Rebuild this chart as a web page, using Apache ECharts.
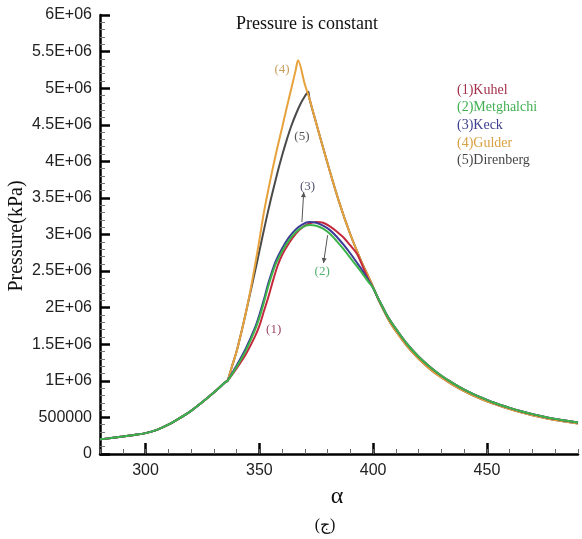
<!DOCTYPE html>
<html>
<head>
<meta charset="utf-8">
<script src="https://cdn.jsdelivr.net/npm/echarts@6/dist/echarts.min.js"></script>
<style>
  html, body { margin: 0; padding: 0; background: #ffffff; }
  #chart { width: 582px; height: 539px; }
</style>
</head>
<body>
<div id="chart"></div>
<script>
// Pressure (kPa) against crank angle alpha for five laminar flame speed correlations.

// Shared compression segment (all models identical here)
const alphaBase = [280, 285, 290, 295, 300, 305, 310, 315, 320, 325, 330, 335];
const pBase = [2.0e5, 2.18e5, 2.38e5, 2.6e5, 2.85e5, 3.3e5, 4.0e5, 4.9e5, 5.9e5, 7.1e5, 8.4e5, 9.8e5];

// (1) Kuhel
const alphaKuhel = [336, 340, 344, 348, 350, 352, 354, 356, 358, 360, 363, 366, 369, 372, 375, 378, 381, 384, 387, 390, 393, 396, 398];
const pKuhel = [1.0e6, 1.17e6, 1.36e6, 1.6e6, 1.75e6, 1.95e6, 2.15e6, 2.37e6, 2.57e6, 2.72e6, 2.88e6, 3.01e6, 3.1e6, 3.15e6, 3.17e6, 3.16e6, 3.11e6, 3.04e6, 2.96e6, 2.85e6, 2.73e6, 2.52e6, 2.38e6];

// (2) Metghalchi
const alphaMetghalchi = [336, 340, 344, 348, 350, 352, 354, 357, 360, 363, 366, 369, 372, 375, 378, 381, 384, 387, 390, 393, 395, 398];
const pMetghalchi = [1.0e6, 1.19e6, 1.41e6, 1.69e6, 1.86e6, 2.07e6, 2.3e6, 2.58e6, 2.77e6, 2.92e6, 3.03e6, 3.1e6, 3.13e6, 3.12e6, 3.08e6, 3.01e6, 2.91e6, 2.8e6, 2.68e6, 2.56e6, 2.48e6, 2.35e6];

// (3) Keck
const alphaKeck = [336, 340, 344, 348, 350, 352, 354, 357, 360, 363, 366, 369, 372, 375, 378, 381, 384, 387, 390, 393, 395, 398];
const pKeck = [1.0e6, 1.21e6, 1.44e6, 1.72e6, 1.9e6, 2.11e6, 2.34e6, 2.62e6, 2.81e6, 2.96e6, 3.07e6, 3.14e6, 3.17e6, 3.16e6, 3.12e6, 3.06e6, 2.97e6, 2.86e6, 2.74e6, 2.61e6, 2.52e6, 2.37e6];

// Expansion tail shared by (1)-(3)
const alphaTail = [400, 402, 404, 406, 408, 410, 415, 420, 425, 430, 435, 440, 445, 450, 455, 460, 465, 470, 475, 480, 485, 490];
const pTail123 = [2.27e6, 2.14e6, 2.02e6, 1.9e6, 1.8e6, 1.71e6, 1.5e6, 1.33e6, 1.19e6, 1.07e6, 9.7e5, 8.8e5, 8.05e5, 7.4e5, 6.8e5, 6.3e5, 5.85e5, 5.45e5, 5.1e5, 4.8e5, 4.55e5, 4.3e5];

// (4) Gulder rise to its peak
const alphaGulder = [336, 338, 340, 342, 344, 346, 348, 350, 352, 354, 356, 358, 360, 362, 364, 366, 367, 370];
const pGulder = [1.0e6, 1.2e6, 1.4e6, 1.65e6, 1.92e6, 2.22e6, 2.56e6, 2.92e6, 3.3e6, 3.62e6, 3.92e6, 4.2e6, 4.46e6, 4.73e6, 4.99e6, 5.25e6, 5.38e6, 5.05e6];

// (5) Direnberg rise to its peak
const alphaDirenberg = [336, 338, 340, 342, 344, 346, 348, 350, 352, 354, 356, 358, 360, 362, 364, 366, 368, 370, 371.5];
const pDirenberg = [1.0e6, 1.2e6, 1.4e6, 1.65e6, 1.92e6, 2.2e6, 2.48e6, 2.77e6, 3.06e6, 3.34e6, 3.6e6, 3.85e6, 4.08e6, 4.29e6, 4.48e6, 4.64e6, 4.78e6, 4.89e6, 4.95e6];

// Falling branch shared by (4) and (5)
const alphaFall45 = [372, 375, 380, 385, 390, 395, 398];
const pFall45 = [4.86e6, 4.52e6, 3.97e6, 3.45e6, 3.0e6, 2.62e6, 2.42e6];
const pTail45 = [2.28e6, 2.13e6, 2.0e6, 1.88e6, 1.77e6, 1.68e6, 1.47e6, 1.3e6, 1.16e6, 1.045e6, 9.45e5, 8.6e5, 7.85e5, 7.2e5, 6.65e5, 6.15e5, 5.7e5, 5.3e5, 4.95e5, 4.65e5, 4.4e5, 4.15e5];

const xTicks = [300, 350, 400, 450];

const legendNames = ['(1)Kuhel', '(2)Metghalchi', '(3)Keck', '(4)Gulder', '(5)Direnberg'];

function pairs(...segments) {
  const out = [];
  for (const [xs, ys] of segments) {
    xs.forEach((x, i) => out.push([x, ys[i]]));
  }
  return out;
}

const colors = {
  kuhel: '#c42a3e',
  metghalchi: '#3cb44a',
  keck: '#3c3c98',
  gulder: '#e8a23c',
  direnberg: '#4a4a4a'
};
const labelColors = ['#a3304a', '#42b052', '#3f3f92', '#d9a043', '#474747'];

function yLabel(v) {
  if (v === 0) return '0';
  if (v < 1e6) return String(v);
  return (v / 1e6) + 'E+06';
}

const chart = echarts.init(document.getElementById('chart'), null, { renderer: 'canvas' });

function lineSeries(name, color, data, z) {
  return {
    name, type: 'line', data, z,
    xAxisIndex: 0, yAxisIndex: 0,
    showSymbol: false, smooth: 0.3,
    lineStyle: { color, width: 2 },
    emphasis: { disabled: true },
    animation: false
  };
}

const sansFont = 'Liberation Sans, Arial, sans-serif';
const serifFont = 'Liberation Serif, Times New Roman, serif';

chart.setOption({
  backgroundColor: '#ffffff',
  animation: false,
  grid: { left: 100, right: 4, top: 15, bottom: 85, containLabel: false },
  xAxis: [
    {
      type: 'value', min: 280, max: 490,
      axisLine: { show: true, lineStyle: { color: '#000', width: 2.5 } },
      axisTick: { show: true, inside: true, length: 11, customValues: xTicks, lineStyle: { color: '#000', width: 2.5 } },
      axisLabel: { customValues: xTicks, color: '#222', fontSize: 16, fontFamily: sansFont, margin: 9 },
      splitLine: { show: false }
    },
    {
      type: 'value', min: 280, max: 490, interval: 10,
      position: 'bottom',
      axisLine: { show: false },
      axisTick: { show: true, inside: true, length: 5, lineStyle: { color: '#666', width: 1 } },
      axisLabel: { show: false },
      splitLine: { show: false }
    }
  ],
  yAxis: {
    type: 'value', min: 0, max: 6e6, interval: 5e5,
    axisLine: { show: true, lineStyle: { color: '#000', width: 2.5 } },
    axisTick: { show: true, inside: true, length: 10, lineStyle: { color: '#000', width: 2.5 } },
    minorTick: { show: true, splitNumber: 5, length: 5, lineStyle: { color: '#777', width: 1 } },
    axisLabel: { formatter: yLabel, color: '#222', fontSize: 16, fontFamily: sansFont, margin: 8 },
    splitLine: { show: false }
  },
  series: [
    lineSeries('(5)Direnberg', colors.direnberg, pairs([alphaBase, pBase], [alphaDirenberg, pDirenberg], [alphaFall45, pFall45], [alphaTail, pTail45]), 2),
    lineSeries('(4)Gulder', colors.gulder, pairs([alphaBase, pBase], [alphaGulder, pGulder], [alphaFall45, pFall45], [alphaTail, pTail45]), 3),
    lineSeries('(1)Kuhel', colors.kuhel, pairs([alphaBase, pBase], [alphaKuhel, pKuhel], [alphaTail, pTail123]), 4),
    lineSeries('(3)Keck', colors.keck, pairs([alphaBase, pBase], [alphaKeck, pKeck], [alphaTail, pTail123]), 5),
    lineSeries('(2)Metghalchi', colors.metghalchi, pairs([alphaBase, pBase], [alphaMetghalchi, pMetghalchi], [alphaTail, pTail123]), 6)
  ]
});

// Curve tags and leader arrows, placed in data space
const curveTags = [
  { text: '(4)', at: [360, 5.25e6], color: '#c9a060' },
  { text: '(5)', at: [368.7, 4.34e6], color: '#555555' },
  { text: '(3)', at: [371.2, 3.65e6], color: '#555577' },
  { text: '(2)', at: [377.6, 2.49e6], color: '#55b070' },
  { text: '(1)', at: [356.3, 1.70e6], color: '#a04a66' }
];
const leaders = [
  { from: [368.7, 3.17e6], to: [369.5, 3.58e6] },
  { from: [380.0, 2.99e6], to: [378.2, 2.61e6] }
];

function px(pt) {
  return chart.convertToPixel({ xAxisIndex: 0, yAxisIndex: 0 }, pt);
}

const graphics = [];

graphics.push({
  type: 'text', x: 307, y: 24,
  style: { text: 'Pressure is constant', font: '18px ' + serifFont, fill: '#111', align: 'center', verticalAlign: 'middle' }
});

graphics.push({
  type: 'text', x: 17, y: 236, rotation: Math.PI / 2,
  style: { text: 'Pressure(kPa)', font: '20px ' + serifFont, fill: '#111', align: 'center', verticalAlign: 'middle' }
});

graphics.push({
  type: 'text', x: 337, y: 497,
  style: { text: 'α', font: '24px ' + serifFont, fill: '#111', align: 'center', verticalAlign: 'middle' }
});

graphics.push({
  type: 'text', x: 325, y: 526,
  style: { text: '(ج)', font: '16px ' + serifFont, fill: '#111', align: 'center', verticalAlign: 'middle' }
});

legendNames.forEach((name, i) => {
  graphics.push({
    type: 'text', x: 457, y: 90 + i * 17.7,
    style: { text: name, font: '14px ' + serifFont, fill: labelColors[i], align: 'left', verticalAlign: 'middle' }
  });
});

curveTags.forEach(t => {
  const p = px(t.at);
  graphics.push({
    type: 'text', x: p[0], y: p[1],
    style: { text: t.text, font: '13px ' + serifFont, fill: t.color, align: 'center', verticalAlign: 'middle' }
  });
});

leaders.forEach(l => {
  const a = px(l.from), b = px(l.to);
  graphics.push({
    type: 'line',
    shape: { x1: a[0], y1: a[1], x2: b[0], y2: b[1] },
    style: { stroke: '#555', lineWidth: 1 }
  });
  const ang = Math.atan2(b[1] - a[1], b[0] - a[0]);
  const s = 5, w = 2.5;
  const bx = b[0] - s * Math.cos(ang), by = b[1] - s * Math.sin(ang);
  graphics.push({
    type: 'polygon',
    shape: { points: [
      [b[0], b[1]],
      [bx + w * Math.sin(ang), by - w * Math.cos(ang)],
      [bx - w * Math.sin(ang), by + w * Math.cos(ang)]
    ] },
    style: { fill: '#555' }
  });
});

chart.setOption({ graphic: graphics });
</script>
</body>
</html>
